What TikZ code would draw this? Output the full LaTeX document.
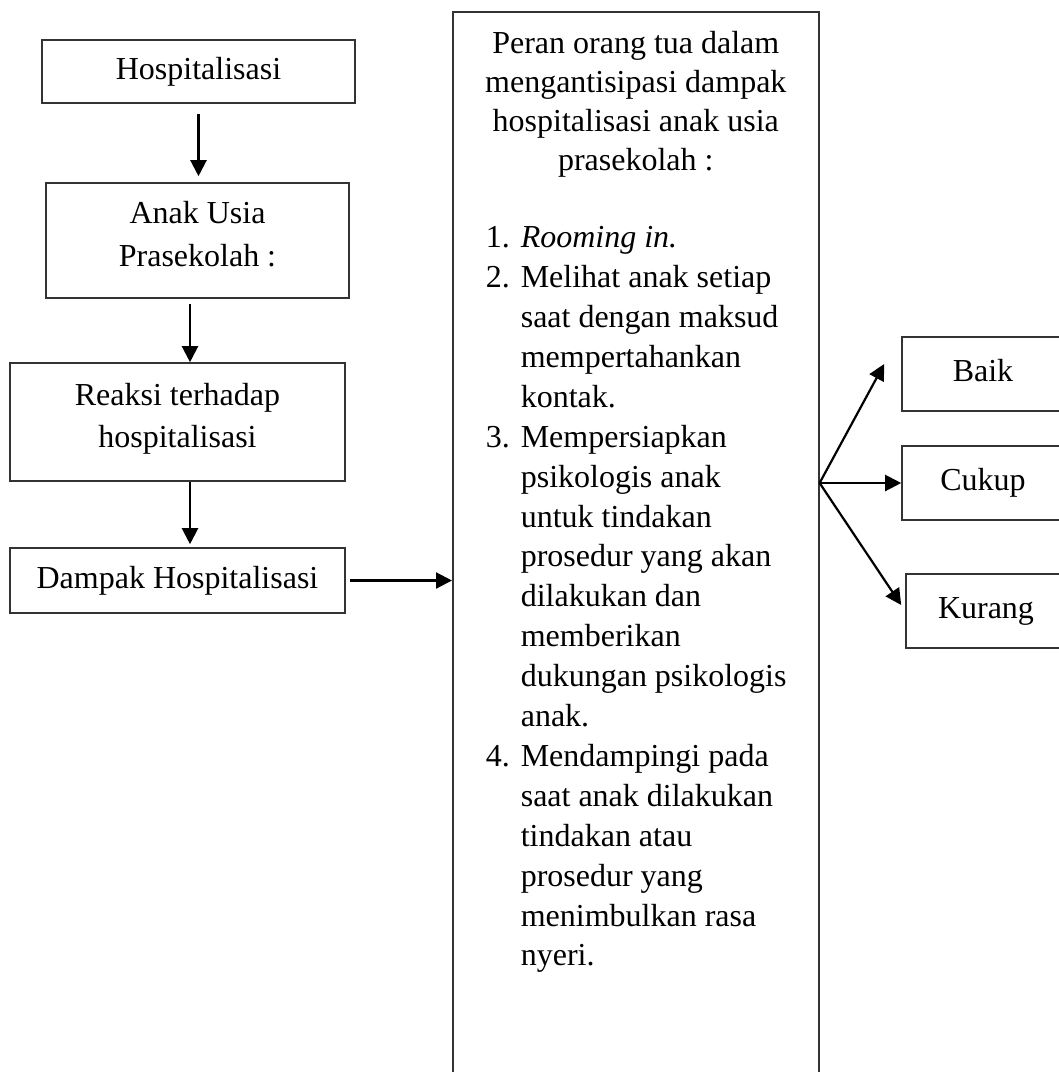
\documentclass[tikz,border=0pt]{standalone}
\usepackage{fontspec}
\setmainfont{Liberation Serif}
\usetikzlibrary{arrows.meta}
\usetikzlibrary{calc}

\begin{document}
\begin{tikzpicture}[x=1pt, y=-1pt,
    box/.style={draw=black!80, line width=1.6pt, inner sep=0pt,
      font=\fontsize{32}{42.5}\selectfont},
    onerow/.style={text height=22pt, text depth=7pt},
    flow/.style={->, line width=2.2pt},
    >={Triangle[length=16pt, width=16pt]}]
  \useasboundingbox (0,0) rectangle (1059,1072);
  \clip (0,0) rectangle (1059,1072);

  % left column
  \node[box, onerow, minimum width=313pt, minimum height=63pt] (hosp) at (198.5,71.5) {Hospitalisasi};
  \node[box, align=center, minimum width=303pt, minimum height=115pt] (anak) at (197.5,240.5) {Anak Usia\\Prasekolah :\strut};
  \node[box, align=center, minimum width=335pt, minimum height=118pt] (reaksi) at (177.5,422) {Reaksi terhadap\\hospitalisasi\strut};
  \node[box, onerow, minimum width=335pt, minimum height=65pt] (dampak) at (177.5,580.5) {Dampak Hospitalisasi};

  % middle box
  \node[box, anchor=north west] (peran) at (452,11) {%
    \begin{minipage}[t][1100pt][t]{366pt}
      \fontsize{32}{39}\selectfont\centering
      \rule{0pt}{42pt}Peran orang tua dalam\\
      mengantisipasi dampak\\
      hospitalisasi anak usia\\
      prasekolah :\par
      \vspace{37pt}
      \fontsize{32}{39.9}\selectfont\raggedright
      \hspace*{33pt}%
      \begin{tabular}[t]{@{}l@{\hspace{11pt}}l@{}}
        1. & \textit{Rooming in.}\\
        2. & Melihat anak setiap\\
           & saat dengan maksud\\
           & mempertahankan\\
           & kontak.\\
        3. & Mempersiapkan\\
           & psikologis anak\\
           & untuk tindakan\\
           & prosedur yang akan\\
           & dilakukan dan\\
           & memberikan\\
           & dukungan psikologis\\
           & anak.\\
        4. & Mendampingi pada\\
           & saat anak dilakukan\\
           & tindakan atau\\
           & prosedur yang\\
           & menimbulkan rasa\\
           & nyeri.
      \end{tabular}
    \end{minipage}};

  % right column
  \node[box, onerow, minimum width=162pt, minimum height=74pt] (baik) at (983,374) {Baik};
  \node[box, onerow, minimum width=162pt, minimum height=74pt] (cukup) at (983,483) {Cukup};
  \node[box, onerow, minimum width=160pt, minimum height=74pt] (kurang) at (986,611) {Kurang};
  \coordinate (fork) at (peran.east |- cukup.west);

  % arrows
  \draw[flow, shorten <=10pt, shorten >=6pt] (hosp.south) -- (hosp.south |- anak.north);
  \draw[flow, shorten <=5pt] ([xshift=-7.5pt]anak.south) -- ([xshift=-7.5pt]anak.south |- reaksi.north);
  \draw[flow, shorten >=3pt] ([xshift=12.5pt]reaksi.south) -- ([xshift=12.5pt]reaksi.south |- dampak.north);
  \draw[flow, shorten <=4pt] (dampak.east) -- (dampak.east -| peran.west);
  \draw[flow] (fork) -- ([xshift=-17pt, yshift=10pt]baik.west);
  \draw[flow] (fork) -- (cukup.west);
  \draw[flow] (fork) -- ([xshift=-4pt, yshift=6pt]kurang.west);
\end{tikzpicture}
\end{document}
